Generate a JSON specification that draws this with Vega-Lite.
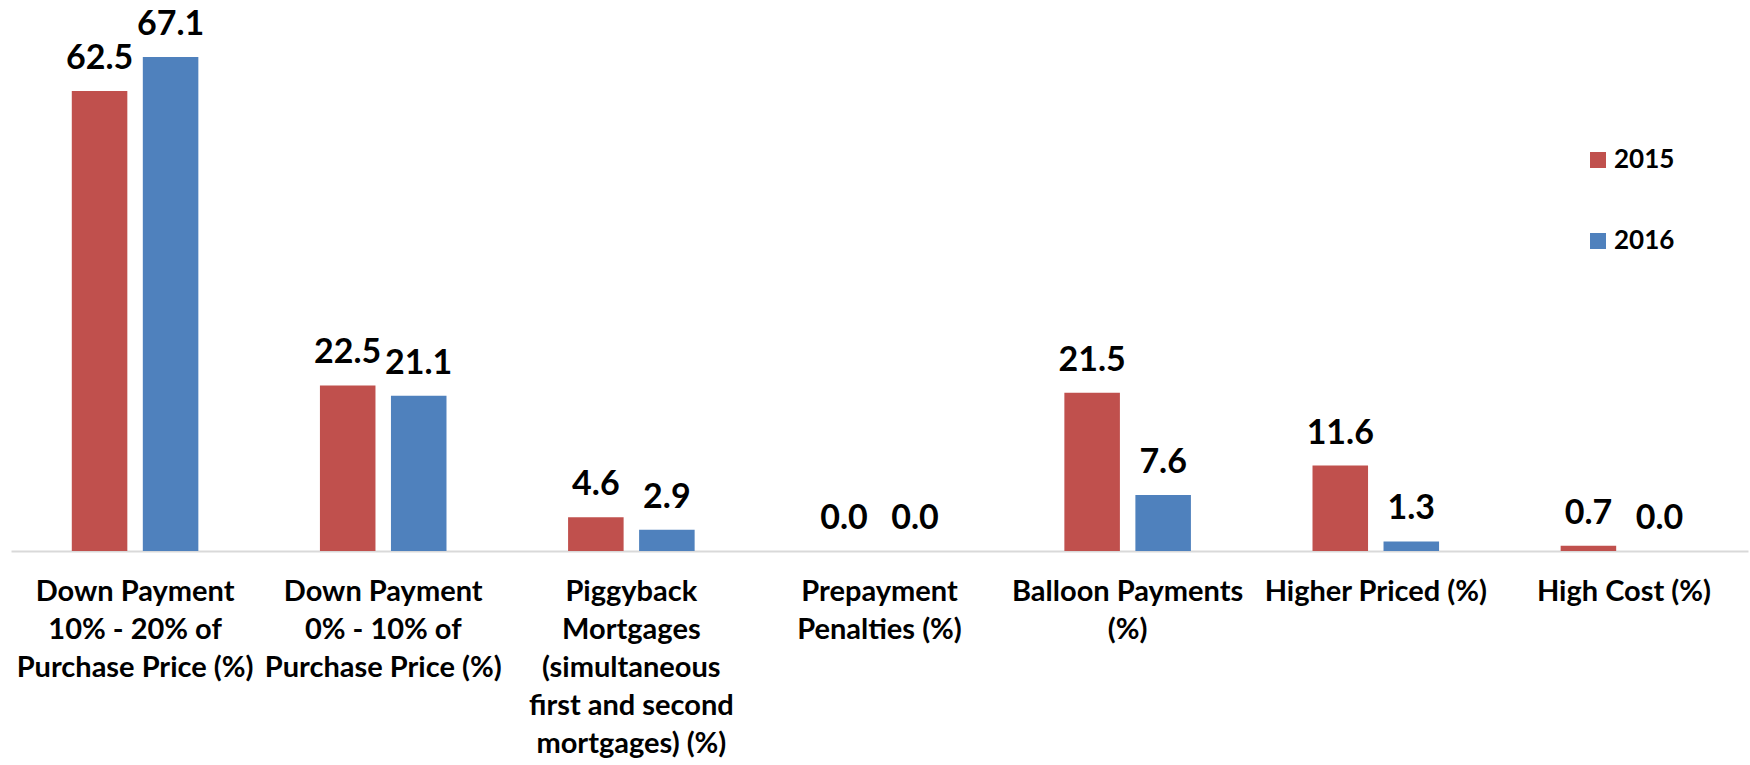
{
  "$schema": "https://vega.github.io/schema/vega-lite/v6.json",
  "width": 1737,
  "height": 551,
  "autosize": {"type": "none"},
  "padding": {"left": 11, "top": 0, "right": 2, "bottom": 214},
  "background": "white",
  "config": {
    "view": {"stroke": null},
    "font": "Lato"
  },
  "data": {
    "values": [
      {"category": "Down Payment|10% - 20% of|Purchase Price (%)", "year": "2015", "value": 62.5},
      {"category": "Down Payment|10% - 20% of|Purchase Price (%)", "year": "2016", "value": 67.1},
      {"category": "Down Payment|0% - 10% of|Purchase Price (%)", "year": "2015", "value": 22.5},
      {"category": "Down Payment|0% - 10% of|Purchase Price (%)", "year": "2016", "value": 21.1},
      {"category": "Piggyback|Mortgages|(simultaneous|first and second|mortgages) (%)", "year": "2015", "value": 4.6},
      {"category": "Piggyback|Mortgages|(simultaneous|first and second|mortgages) (%)", "year": "2016", "value": 2.9},
      {"category": "Prepayment|Penalties (%)", "year": "2015", "value": 0.0},
      {"category": "Prepayment|Penalties (%)", "year": "2016", "value": 0.0},
      {"category": "Balloon Payments|(%)", "year": "2015", "value": 21.5},
      {"category": "Balloon Payments|(%)", "year": "2016", "value": 7.6},
      {"category": "Higher Priced (%)", "year": "2015", "value": 11.6},
      {"category": "Higher Priced (%)", "year": "2016", "value": 1.3},
      {"category": "High Cost (%)", "year": "2015", "value": 0.7},
      {"category": "High Cost (%)", "year": "2016", "value": 0.0}
    ]
  },
  "encoding": {
    "x": {
      "field": "category",
      "type": "nominal",
      "sort": null,
      "scale": {"paddingInner": 0, "paddingOuter": 0},
      "axis": {
        "title": null,
        "labelAngle": 0,
        "labelExpr": "split(datum.label, '|')",
        "labelFont": "Lato",
        "labelFontWeight": "bold",
        "labelFontSize": 29,
        "labelLineHeight": 38,
        "labelColor": "black",
        "labelLimit": 0,
        "labelPadding": 26,
        "labelOverlap": false,
        "labelBaseline": "top",
        "ticks": false,
        "tickSize": 0,
        "domainColor": "#D9D9D9",
        "domainWidth": 2,
        "grid": false
      }
    },
    "xOffset": {
      "field": "year",
      "type": "nominal",
      "scale": {"paddingInner": 0.218, "paddingOuter": 0.856}
    },
    "y": {
      "field": "value",
      "type": "quantitative",
      "scale": {"domain": [0, 74.86], "nice": false, "zero": true},
      "axis": null
    }
  },
  "layer": [
    {
      "mark": {"type": "bar"},
      "encoding": {
        "color": {
          "field": "year",
          "type": "nominal",
          "scale": {"domain": ["2015", "2016"], "range": ["#C0504D", "#4F81BD"]},
          "legend": {
            "title": null,
            "orient": "none",
            "legendX": 1574,
            "legendY": 147,
            "symbolType": "square",
            "symbolSize": 256,
            "symbolStrokeWidth": 0,
            "labelFont": "Lato",
            "labelFontWeight": "bold",
            "labelFontSize": 26,
            "labelColor": "black",
            "labelOffset": 3,
            "rowPadding": 55,
            "padding": 0
          }
        }
      }
    },
    {
      "mark": {
        "type": "text",
        "baseline": "alphabetic",
        "align": "center",
        "dy": -22,
        "font": "Lato",
        "fontWeight": "bold",
        "fontSize": 34,
        "color": "black"
      },
      "encoding": {
        "text": {"field": "value", "type": "quantitative", "format": ".1f"}
      }
    }
  ]
}
